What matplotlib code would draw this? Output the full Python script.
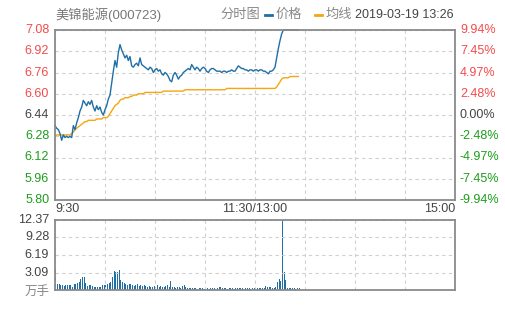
import matplotlib
matplotlib.use('Agg')
import matplotlib.pyplot as plt
import numpy as np

plt.rcParams['font.family'] = ['Liberation Sans', 'Noto Sans CJK SC', 'DejaVu Sans']

# data, one value per minute from 9:30
price = [6.36, 6.34, 6.33, 6.30, 6.25, 6.29, 6.27, 6.28, 6.27, 6.28,
         6.27, 6.36, 6.33, 6.38, 6.42, 6.47, 6.50, 6.55, 6.53, 6.51,
         6.54, 6.52, 6.55, 6.50, 6.47, 6.51, 6.48, 6.50, 6.46, 6.44,
         6.48, 6.51, 6.56, 6.59, 6.68, 6.77, 6.85, 6.80, 6.91, 6.97,
         6.93, 6.90, 6.87, 6.89, 6.85, 6.88, 6.81, 6.80, 6.82, 6.83,
         6.81, 6.87, 6.82, 6.81, 6.80, 6.79, 6.78, 6.80, 6.79, 6.76,
         6.78, 6.79, 6.77, 6.78, 6.75, 6.74, 6.76, 6.75, 6.73, 6.70,
         6.69, 6.74, 6.76, 6.74, 6.71, 6.73, 6.74, 6.76, 6.77, 6.78,
         6.79, 6.78, 6.82, 6.80, 6.78, 6.80, 6.79, 6.77, 6.79, 6.80,
         6.79, 6.77, 6.76, 6.78, 6.79, 6.79, 6.78, 6.77, 6.77, 6.77,
         6.76, 6.77, 6.77, 6.76, 6.77, 6.77, 6.78, 6.77, 6.77, 6.79,
         6.81, 6.80, 6.79, 6.79, 6.78, 6.78, 6.77, 6.78, 6.78, 6.77,
         6.78, 6.78, 6.77, 6.78, 6.78, 6.77, 6.77, 6.76, 6.75, 6.77,
         6.77, 6.78, 6.80, 6.87, 6.94, 7.00, 7.05, 7.08, 7.08, 7.08,
         7.08, 7.08, 7.08, 7.08, 7.08, 7.08, 7.08]

avg = [6.28, 6.29, 6.29, 6.29, 6.29, 6.29, 6.29, 6.29, 6.29, 6.29,
       6.30, 6.31, 6.33, 6.34, 6.35, 6.36, 6.37, 6.38, 6.39, 6.39,
       6.40, 6.40, 6.40, 6.40, 6.40, 6.41, 6.41, 6.41, 6.41, 6.42,
       6.42, 6.42, 6.43, 6.45, 6.47, 6.49, 6.51, 6.52, 6.53, 6.55,
       6.56, 6.56, 6.57, 6.57, 6.57, 6.58, 6.58, 6.59, 6.59, 6.59,
       6.60, 6.60, 6.60, 6.60, 6.61, 6.61, 6.61, 6.61, 6.61, 6.61,
       6.61, 6.61, 6.61, 6.61, 6.61, 6.62, 6.62, 6.62, 6.62, 6.62,
       6.62, 6.62, 6.62, 6.62, 6.62, 6.62, 6.62, 6.62, 6.63, 6.63,
       6.63, 6.63, 6.63, 6.63, 6.63, 6.63, 6.63, 6.63, 6.63, 6.63,
       6.63, 6.63, 6.63, 6.63, 6.63, 6.63, 6.63, 6.63, 6.63, 6.63,
       6.63, 6.63, 6.63, 6.64, 6.64, 6.64, 6.64, 6.64, 6.64, 6.64,
       6.64, 6.64, 6.64, 6.64, 6.64, 6.64, 6.64, 6.64, 6.64, 6.64,
       6.64, 6.64, 6.64, 6.64, 6.64, 6.64, 6.64, 6.64, 6.64, 6.64,
       6.64, 6.64, 6.64, 6.65, 6.67, 6.69, 6.71, 6.72, 6.72, 6.72,
       6.72, 6.73, 6.73, 6.73, 6.73, 6.73, 6.73]

volume = [3.5, 1.1, 1.0, 0.9, 0.8, 0.7, 0.8, 0.9, 0.8, 0.8,
          0.6, 1.1, 1.0, 1.2, 1.5, 2.0, 2.3, 2.3, 1.2, 0.7,
          0.8, 0.9, 0.7, 0.6, 0.6, 0.6, 0.6, 0.5, 0.8, 0.8,
          0.9, 1.0, 1.2, 1.5, 2.3, 3.4, 3.1, 3.1, 3.5, 1.7,
          1.4, 1.2, 1.1, 0.9, 1.1, 1.0, 0.9, 0.7, 0.9, 1.0,
          0.7, 0.8, 0.7, 0.9, 0.7, 0.6, 0.7, 0.5, 0.6, 0.7,
          0.6, 0.8, 0.6, 0.7, 0.5, 0.6, 0.7, 0.9, 0.6, 1.6,
          0.6, 0.5, 0.4, 0.5, 0.5, 0.4, 0.7, 0.9, 0.6, 0.4,
          0.4, 0.3, 0.3, 0.3, 0.3, 0.2, 0.3, 0.3, 0.3, 0.2,
          0.3, 0.3, 0.2, 0.3, 0.3, 0.3, 0.2, 0.3, 0.5, 0.5,
          0.3, 0.3, 0.4, 0.2, 0.3, 0.4, 0.3, 0.2, 0.3, 0.3,
          0.4, 0.3, 0.3, 0.2, 0.3, 0.3, 0.3, 0.2, 0.3, 0.4,
          0.3, 0.3, 0.4, 0.3, 0.3, 0.4, 0.7, 0.5, 0.5, 0.5,
          0.4, 0.4, 0.6, 1.4, 1.9, 1.6, 12.37, 3.1, 1.8, 0.4,
          0.4, 0.4, 0.3, 0.4, 0.2, 0.4, 0.3]

prev_close = 6.44
price_ticks = [5.80, 5.96, 6.12, 6.28, 6.44, 6.60, 6.76, 6.92, 7.08]
pct_labels = ['-9.94%', '-7.45%', '-4.97%', '-2.48%', '0.00%',
              '2.48%', '4.97%', '7.45%', '9.94%']
vol_ticks = [3.09, 6.19, 9.28, 12.37]

BLUE = '#1f6fa6'
ORANGE = '#f6a60f'
RED = '#f54a4a'
GREEN = '#1b9e1b'
FRAME = '#8a8a8a'
GRID = '#d0d0d0'


def label_color(p):
    if p > prev_close + 1e-6:
        return RED
    if p < prev_close - 1e-6:
        return GREEN
    return '#444444'


def style_frame(ax):
    for s in ax.spines.values():
        s.set_color(FRAME)
        s.set_linewidth(1.3)
    ax.tick_params(length=0, labelleft=False, labelbottom=False)
    ax.set_xticks(range(0, 241, 30))
    ax.set_xticklabels([])
    ax.grid(True, color=GRID, linestyle=(0, (3, 3)), linewidth=0.8)
    ax.set_xlim(0, 240)


W, H = 505, 310
fs = 9
fig = plt.figure(figsize=(W / 100, H / 100), dpi=100)
fig.patch.set_facecolor('white')

ax = fig.add_axes([55 / W, (H - 200) / H, 400 / W, 170 / H])
style_frame(ax)
ax.set_ylim(5.80, 7.08)
ax.set_yticks(price_ticks)
t = np.arange(len(price))
ax.plot(t, avg, color=ORANGE, linewidth=1.0)
ax.plot(t, price, color=BLUE, linewidth=1.0, clip_on=False)

for p, lab in zip(price_ticks, pct_labels):
    c = label_color(p)
    ax.text(-3.5, p, '%.2f' % p, ha='right', va='center', fontsize=fs, color=c)
    ax.text(243, p, lab, ha='left', va='center', fontsize=fs, color=c)

ax.text(0, -0.05, '9:30', transform=ax.transAxes, ha='left', va='center',
        fontsize=fs, color='#444444')
ax.text(0.5, -0.05, '11:30/13:00', transform=ax.transAxes, ha='center',
        va='center', fontsize=fs, color='#444444')
ax.text(1, -0.05, '15:00', transform=ax.transAxes, ha='right', va='center',
        fontsize=fs, color='#444444')

# header
yh = 1 - 15 / H
fig.text(55 / W, yh, '美锦能源(000723)', fontsize=9.5, color='#777777',
         ha='left', va='center')
fig.text(220 / W, yh, '分时图', fontsize=9.5, color='#888888',
         ha='left', va='center')
fig.lines.append(plt.Line2D([265 / W, 272 / W], [yh, yh], color=BLUE,
                            linewidth=2, transform=fig.transFigure))
fig.text(276 / W, yh, '价格', fontsize=9.5, color='#888888',
         ha='left', va='center')
fig.lines.append(plt.Line2D([315 / W, 322 / W], [yh, yh], color=ORANGE,
                            linewidth=2, transform=fig.transFigure))
fig.text(326 / W, yh, '均线', fontsize=9.5, color='#888888',
         ha='left', va='center')
fig.text(355 / W, yh, '2019-03-19 13:26', fontsize=fs, color='#444444',
         ha='left', va='center')

# volume panel
axv = fig.add_axes([55 / W, 20 / H, 400 / W, 70 / H])
style_frame(axv)
axv.set_ylim(0, 12.37)
axv.set_yticks(vol_ticks)
axv.bar(np.arange(len(volume)) + 0.5, volume, width=0.7, color=BLUE)
for v in vol_ticks:
    axv.text(-3.5, v, '%.2f' % v, ha='right', va='center', fontsize=fs,
             color='#444444')
axv.text(-3.5, -0.3, '万手', ha='right', va='center', fontsize=fs,
         color='#888888')

fig.savefig('out.png', dpi=100)
